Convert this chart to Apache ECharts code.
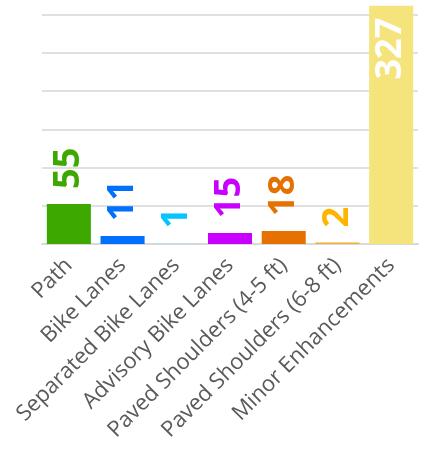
<!DOCTYPE html>
<html>
<head>
<meta charset="utf-8">
<script src="https://cdn.jsdelivr.net/npm/echarts@6/dist/echarts.min.js"></script>
<style>
  html, body { margin: 0; padding: 0; background: #fff; }
  #container { width: 421px; height: 451px; }
</style>
</head>
<body>
<div id="container"></div>
<script>
var categories = ['Path', 'Bike Lanes', 'Separated Bike Lanes', 'Advisory Bike Lanes',
  'Paved Shoulders (4-5 ft)', 'Paved Shoulders (6-8 ft)', 'Minor Enhancements'];
var counts = [55, 11, 1, 15, 18, 2, 327];

// bar fill and label colours, one per category
var barColors = ['#3ca800', '#0070ff', '#b4dce8', '#c800ff', '#e57200', '#f0b030', '#f5e47c'];
var labelColors = ['#3ca800', '#0070ff', '#00c5ff', '#c800ff', '#e57200', '#ffb400', '#ffffff'];

var dom = document.getElementById('container');
var myChart = echarts.init(dom);

var seriesData = counts.map(function (v, i) {
  var item = {
    value: v,
    itemStyle: { color: barColors[i] },
    label: { color: labelColors[i] }
  };
  // the tall bar carries its label inside
  if (i === counts.length - 1) {
    item.label = {
      color: labelColors[i],
      position: 'insideTop',
      align: 'right',
      distance: 12
    };
  }
  return item;
});

var option = {
  animation: false,
  grid: { left: 42, right: 3, top: 14.5, bottom: 207, containLabel: false },
  xAxis: {
    type: 'category',
    data: categories,
    axisTick: { show: false },
    axisLine: { lineStyle: { color: '#d9d9d9', width: 2 } },
    axisLabel: {
      interval: 0,
      rotate: 45,
      margin: 18,
      color: '#5a5a5a',
      fontFamily: 'Open Sans',
      fontSize: 22
    }
  },
  yAxis: {
    type: 'value',
    min: 0,
    max: 315,
    interval: 52.5,
    axisLabel: { show: false },
    axisLine: { show: false },
    axisTick: { show: false },
    splitLine: { lineStyle: { color: '#e0e0e0', width: 2 } }
  },
  series: [{
    type: 'bar',
    data: seriesData,
    barCategoryGap: '18%',
    clip: false,
    label: {
      show: true,
      position: 'top',
      rotate: 90,
      align: 'left',
      verticalAlign: 'middle',
      distance: 15,
      fontFamily: 'Open Sans',
      fontWeight: 'bold',
      fontSize: 36
    }
  }]
};

myChart.setOption(option);
</script>
</body>
</html>
